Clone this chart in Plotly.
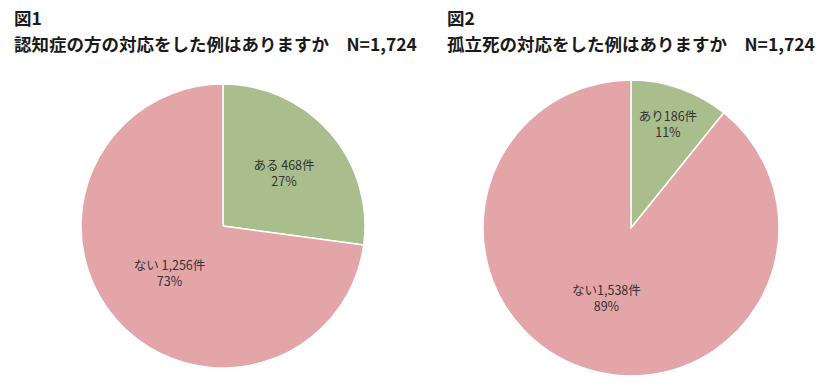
import plotly.graph_objects as go

W, H = 827, 383

labels1 = ["ある", "ない"]
values1 = [468, 1256]
labels2 = ["あり", "ない"]
values2 = [186, 1538]
colors = ["#A9BE8C", "#E4A5A8"]

fig_label = ["図1", "図2"]
titles = ["認知症の方の対応をした例はありますか", "孤立死の対応をした例はありますか"]
n_text = "N=1,724"

fig = go.Figure()

def dom(x0, x1, y0, y1):
    return dict(x=[x0 / W, x1 / W], y=[1 - y1 / H, 1 - y0 / H])

fig.add_trace(go.Pie(
    labels=labels1, values=values1, sort=False, direction="clockwise", rotation=0,
    marker=dict(colors=colors, line=dict(color="white", width=1.5)),
    texttemplate="%{label} %{value:,}件<br>%{percent:.0%}",
    textposition="inside", insidetextorientation="horizontal",
    textfont=dict(size=12.5, color="#333333", family="Noto Sans CJK JP"),
    domain=dom(81, 365, 84, 368), showlegend=False, hoverinfo="label+value+percent",
))
fig.add_trace(go.Pie(
    labels=labels2, values=values2, sort=False, direction="clockwise", rotation=0,
    marker=dict(colors=colors, line=dict(color="white", width=1.5)),
    texttemplate="%{label}%{value:,}件<br>%{percent:.0%}",
    textposition="inside", insidetextorientation="horizontal",
    textfont=dict(size=12.5, color="#333333", family="Noto Sans CJK JP"),
    domain=dom(483, 779, 80, 376), showlegend=False, hoverinfo="label+value+percent",
))

title_font = dict(family="Noto Sans CJK JP", size=17.5, color="#1a1a1a")
for i, x0 in enumerate([12, 445]):
    fig.add_annotation(x=x0 / W, y=1 - 17 / H, xref="paper", yref="paper",
                       xanchor="left", yanchor="middle", showarrow=False,
                       text="<b>" + fig_label[i] + "</b>", font=title_font)
    fig.add_annotation(x=x0 / W, y=1 - 43 / H, xref="paper", yref="paper",
                       xanchor="left", yanchor="middle", showarrow=False,
                       text="<b>" + titles[i] + "\u3000" + n_text + "</b>", font=title_font)

fig.update_layout(
    width=W, height=H, margin=dict(l=0, r=0, t=0, b=0),
    paper_bgcolor="white", plot_bgcolor="white",
)
fig.write_html("out.html")
